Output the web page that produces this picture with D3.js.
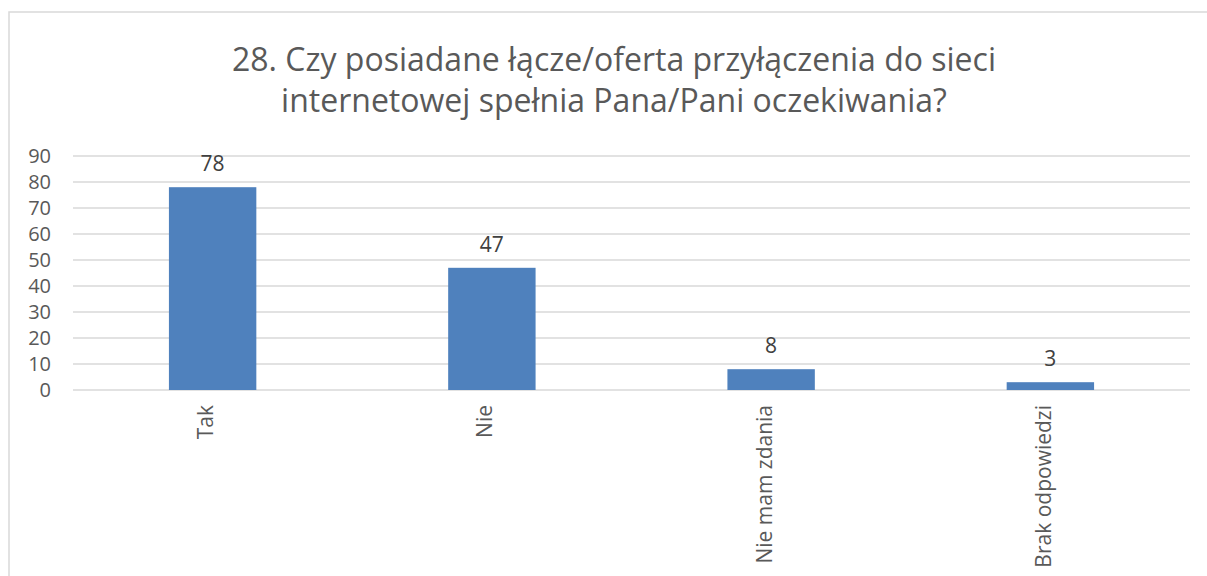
<!DOCTYPE html>
<html><head><meta charset="utf-8">
<script src="https://cdn.jsdelivr.net/npm/d3@7"></script>
<style>body{margin:0;background:#fff;} text{font-family:"Open Sans",sans-serif;}</style>
</head><body>
<svg id="c" width="1207" height="576"></svg>
<script>
const categories = ["Tak", "Nie", "Nie mam zdania", "Brak odpowiedzi"];
const values = [78, 47, 8, 3];
const yTicks = [0,10,20,30,40,50,60,70,80,90];
const titleLines = ["28. Czy posiadane łącze/oferta przyłączenia do sieci", "internetowej spełnia Pana/Pani oczekiwania?"];

const svg = d3.select("#c");
svg.append("rect").attr("x",9).attr("y",12).attr("width",1220).attr("height",600)
  .attr("fill","#fff").attr("stroke","#D9D9D9").attr("stroke-width",1.5);

const x = d3.scaleBand().domain(categories).range([73,1190]).paddingInner(0.687).paddingOuter(0.3435);
const y = d3.scaleLinear().domain([0,90]).range([390,156]);

svg.selectAll(".grid").data(yTicks).enter().append("line")
  .attr("x1",73).attr("x2",1190).attr("y1",d=>y(d)).attr("y2",d=>y(d))
  .attr("stroke","#D9D9D9").attr("stroke-width",1.3);

const yAxis = svg.append("g").attr("transform","translate(51,0)")
  .call(d3.axisLeft(y).tickValues(yTicks).tickSize(0).tickPadding(0));
yAxis.select(".domain").remove();
yAxis.selectAll("text").attr("fill","#595959").style("font-size","20px").style("font-family","Open Sans");

svg.selectAll(".bar").data(values).enter().append("rect")
  .attr("x",(d,i)=>x(categories[i])).attr("width",x.bandwidth())
  .attr("y",d=>y(d)).attr("height",d=>y(0)-y(d)).attr("fill","#4F81BD");

svg.selectAll(".lbl").data(values).enter().append("text")
  .attr("x",(d,i)=>x(categories[i])+x.bandwidth()/2).attr("y",d=>y(d)-16)
  .attr("text-anchor","middle").attr("fill","#404040").style("font-size","21px").text(d=>d);

const xAxis = svg.append("g").attr("transform","translate(0,390)")
  .call(d3.axisBottom(x).tickSize(0).tickPadding(0));
xAxis.select(".domain").remove();
xAxis.selectAll("text").attr("fill","#595959").style("font-size","21px").style("font-family","Open Sans")
  .attr("text-anchor","end").attr("transform","translate(0,15) rotate(-90)")
  .attr("dy","0.02em").attr("y",0).attr("x",0);

svg.selectAll(".title").data(titleLines).enter().append("text")
  .attr("x",614).attr("y",(d,i)=>71+i*41).attr("text-anchor","middle")
  .attr("fill","#595959").style("font-size","32px").text(d=>d);
</script>
</body></html>
